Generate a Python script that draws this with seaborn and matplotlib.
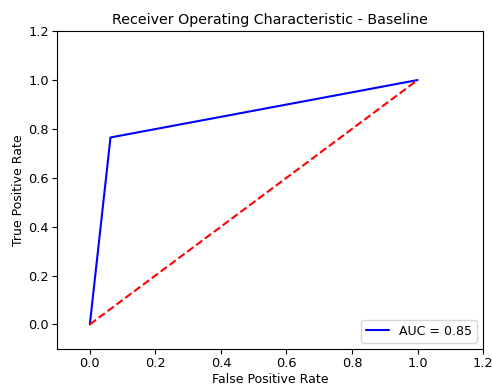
import matplotlib
matplotlib.use("Agg")
import matplotlib.pyplot as plt
import seaborn as sns
import pandas as pd

# ROC points
fpr = [0.0, 0.063, 1.0]
tpr = [0.0, 0.765, 1.0]
auc_label = "AUC = 0.85"
diag = [0.0, 1.0]

sns.set_style("ticks", {'text.color': 'black', 'axes.labelcolor': 'black',
                        'xtick.color': 'black', 'ytick.color': 'black',
                        'axes.edgecolor': 'black'})
plt.rcParams['font.family'] = ['DejaVu Sans']

fig, ax = plt.subplots(figsize=(4.92, 3.85), dpi=100)
fig.subplots_adjust(left=0.116, right=0.982, top=0.919, bottom=0.094)

df = pd.DataFrame({'fpr': fpr, 'tpr': tpr})
sns.lineplot(data=df, x='fpr', y='tpr', color='blue', label=auc_label,
             sort=False, estimator=None, ax=ax, linewidth=1.5)
sns.lineplot(x=diag, y=diag, color='red', linestyle='--', ax=ax, linewidth=1.5)

ax.set_xlim(-0.1, 1.2)
ax.set_ylim(-0.1, 1.2)
ax.set_xticks([0.0, 0.2, 0.4, 0.6, 0.8, 1.0, 1.2])
ax.set_yticks([0.0, 0.2, 0.4, 0.6, 0.8, 1.0, 1.2])
ax.set_title('Receiver Operating Characteristic - Baseline', fontsize=10.3, pad=5)
ax.set_xlabel('False Positive Rate', fontsize=9, labelpad=2)
ax.set_ylabel('True Positive Rate', fontsize=9, labelpad=2.5)
ax.tick_params(labelsize=9.3, direction='out', length=3.5, width=0.8, pad=2.5)
for s in ax.spines.values():
    s.set_visible(True)
    s.set_color('black')
    s.set_linewidth(0.8)
ax.legend(loc='lower right', fontsize=9, handlelength=1.8)

fig.savefig('out.png', dpi=100)
